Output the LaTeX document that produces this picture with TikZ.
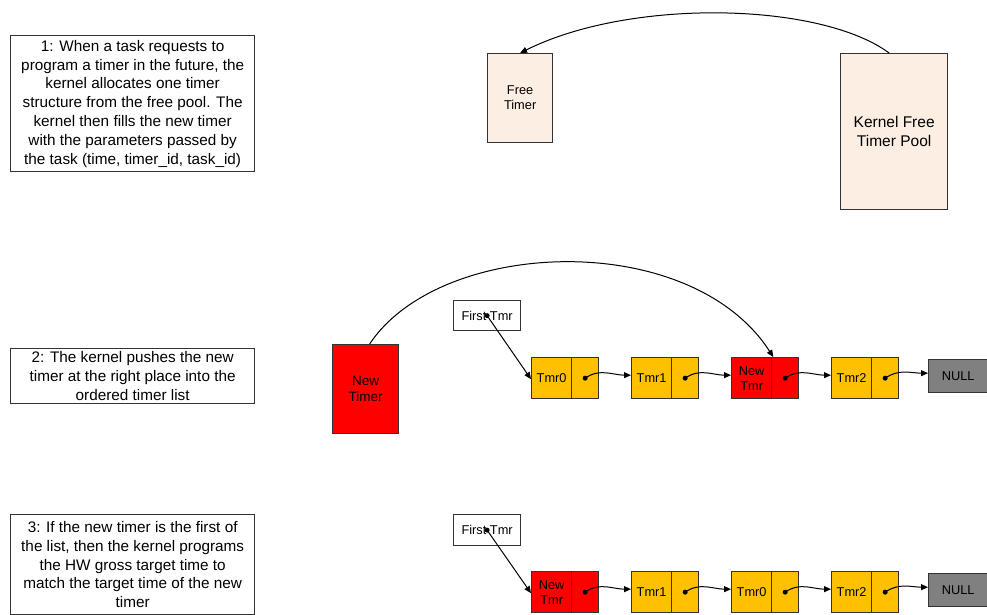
\documentclass[tikz,border=0pt]{standalone}
\usepackage{fontspec}
\setmainfont{Liberation Sans}
\usetikzlibrary{arrows.meta}
\definecolor{peach}{HTML}{FCEEE3}
\definecolor{amber}{HTML}{FFC000}
\definecolor{hotred}{HTML}{FF0000}
\definecolor{nullgray}{HTML}{808080}
\definecolor{edge}{HTML}{333333}
\begin{document}
\begin{tikzpicture}[x=1pt,y=-1pt,
  box/.style={draw=edge,line width=1.3pt,inner sep=0pt,anchor=north west},
  note/.style={box,fill=white,minimum width=244,align=center,
    font=\fontsize{15.3}{18.8}\selectfont},
  small/.style={font=\fontsize{12.8}{15}\selectfont},
  lbl/.style={box,minimum width=40,minimum height=41,align=center,small},
  ptr/.style={box,minimum width=27,minimum height=41},
  link/.style={draw=black,line width=1pt,-{Triangle[length=7pt,width=6pt]}},
  dot/.style={fill=black}
]
\useasboundingbox (0,0) rectangle (987,614);

% ---------- step 1: allocation from the free pool ----------
\node[note,minimum height=136] (n1) at (10,35)
  {1: When a task requests to\\program a timer in the future, the\\kernel allocates one timer\\structure from the free pool. The\\kernel then fills the new timer\\with the parameters passed by\\the task (time, timer\_id, task\_id)};
\node[box,fill=peach,minimum width=65,minimum height=89,align=center,small] (free) at (487,53) {Free\\Timer};
\node[box,fill=peach,minimum width=107,minimum height=156,align=center,
  font=\fontsize{15.5}{19}\selectfont] (pool) at (840,53) {Kernel Free\\Timer Pool};
\draw[link] ([xshift=-5pt]pool.north) .. controls (820,2) and (630,-2) .. (free.north);

% ---------- step 2: insertion into the ordered list ----------
\node[note,minimum height=55] (n2) at (10,348)
  {2: The kernel pushes the new\\timer at the right place into the\\ordered timer list};
\node[box,fill=hotred,minimum width=66,minimum height=89,align=center,
  font=\fontsize{13.5}{16}\selectfont] (newt) at (332,344) {New\\Timer};
\node[box,minimum width=67,minimum height=30,small] (ft2) at (453,300) {First Tmr};

\node[lbl,fill=amber] (a0) at (531,357) {Tmr0};
\node[ptr,fill=amber] (a0p) at (571,357) {};
\node[lbl,fill=amber] (a1) at (631,357) {Tmr1};
\node[ptr,fill=amber] (a1p) at (671,357) {};
\node[lbl,fill=hotred] (a2) at (731,357) {New\\Tmr};
\node[ptr,fill=hotred] (a2p) at (771,357) {};
\node[lbl,fill=amber] (a3) at (831,357) {Tmr2};
\node[ptr,fill=amber] (a3p) at (871,357) {};
\node[box,fill=nullgray,minimum width=59,minimum height=33,small] (anull) at (928,359) {NULL};

\fill[dot] (ft2.center) circle (2.5);
\draw[link] (ft2.center) -- ([yshift=-1pt]a0.west);
\foreach \p/\q in {a0p/a1,a1p/a2,a2p/a3,a3p/anull}{
  \fill[dot] (\p.center) circle (2.5);
  \draw[link] (\p.center) to[out=35,in=180] ([yshift=3pt]\q.west);
}
\draw[link] ([xshift=4pt]newt.north) .. controls (440,238) and (690,228) .. ([xshift=1pt]a2.north east);

% ---------- step 3: new head of the list ----------
\node[note,minimum height=100] (n3) at (10,514)
  {3: If the new timer is the first of\\the list, then the kernel programs\\the HW gross target time to\\match the target time of the new\\timer};
\node[box,minimum width=67,minimum height=31,small] (ft3) at (453,514) {First Tmr};

\node[lbl,fill=hotred] (b0) at (531,571) {New\\Tmr};
\node[ptr,fill=hotred] (b0p) at (571,571) {};
\node[lbl,fill=amber] (b1) at (631,571) {Tmr1};
\node[ptr,fill=amber] (b1p) at (671,571) {};
\node[lbl,fill=amber] (b2) at (731,571) {Tmr0};
\node[ptr,fill=amber] (b2p) at (771,571) {};
\node[lbl,fill=amber] (b3) at (831,571) {Tmr2};
\node[ptr,fill=amber] (b3p) at (871,571) {};
\node[box,fill=nullgray,minimum width=59,minimum height=33,small] (bnull) at (928,573) {NULL};

\fill[dot] (ft3.center) circle (2.5);
\draw[link] (ft3.center) -- ([yshift=-1pt]b0.west);
\foreach \p/\q in {b0p/b1,b1p/b2,b2p/b3,b3p/bnull}{
  \fill[dot] (\p.center) circle (2.5);
  \draw[link] (\p.center) to[out=35,in=180] ([yshift=3pt]\q.west);
}
\end{tikzpicture}
\end{document}
